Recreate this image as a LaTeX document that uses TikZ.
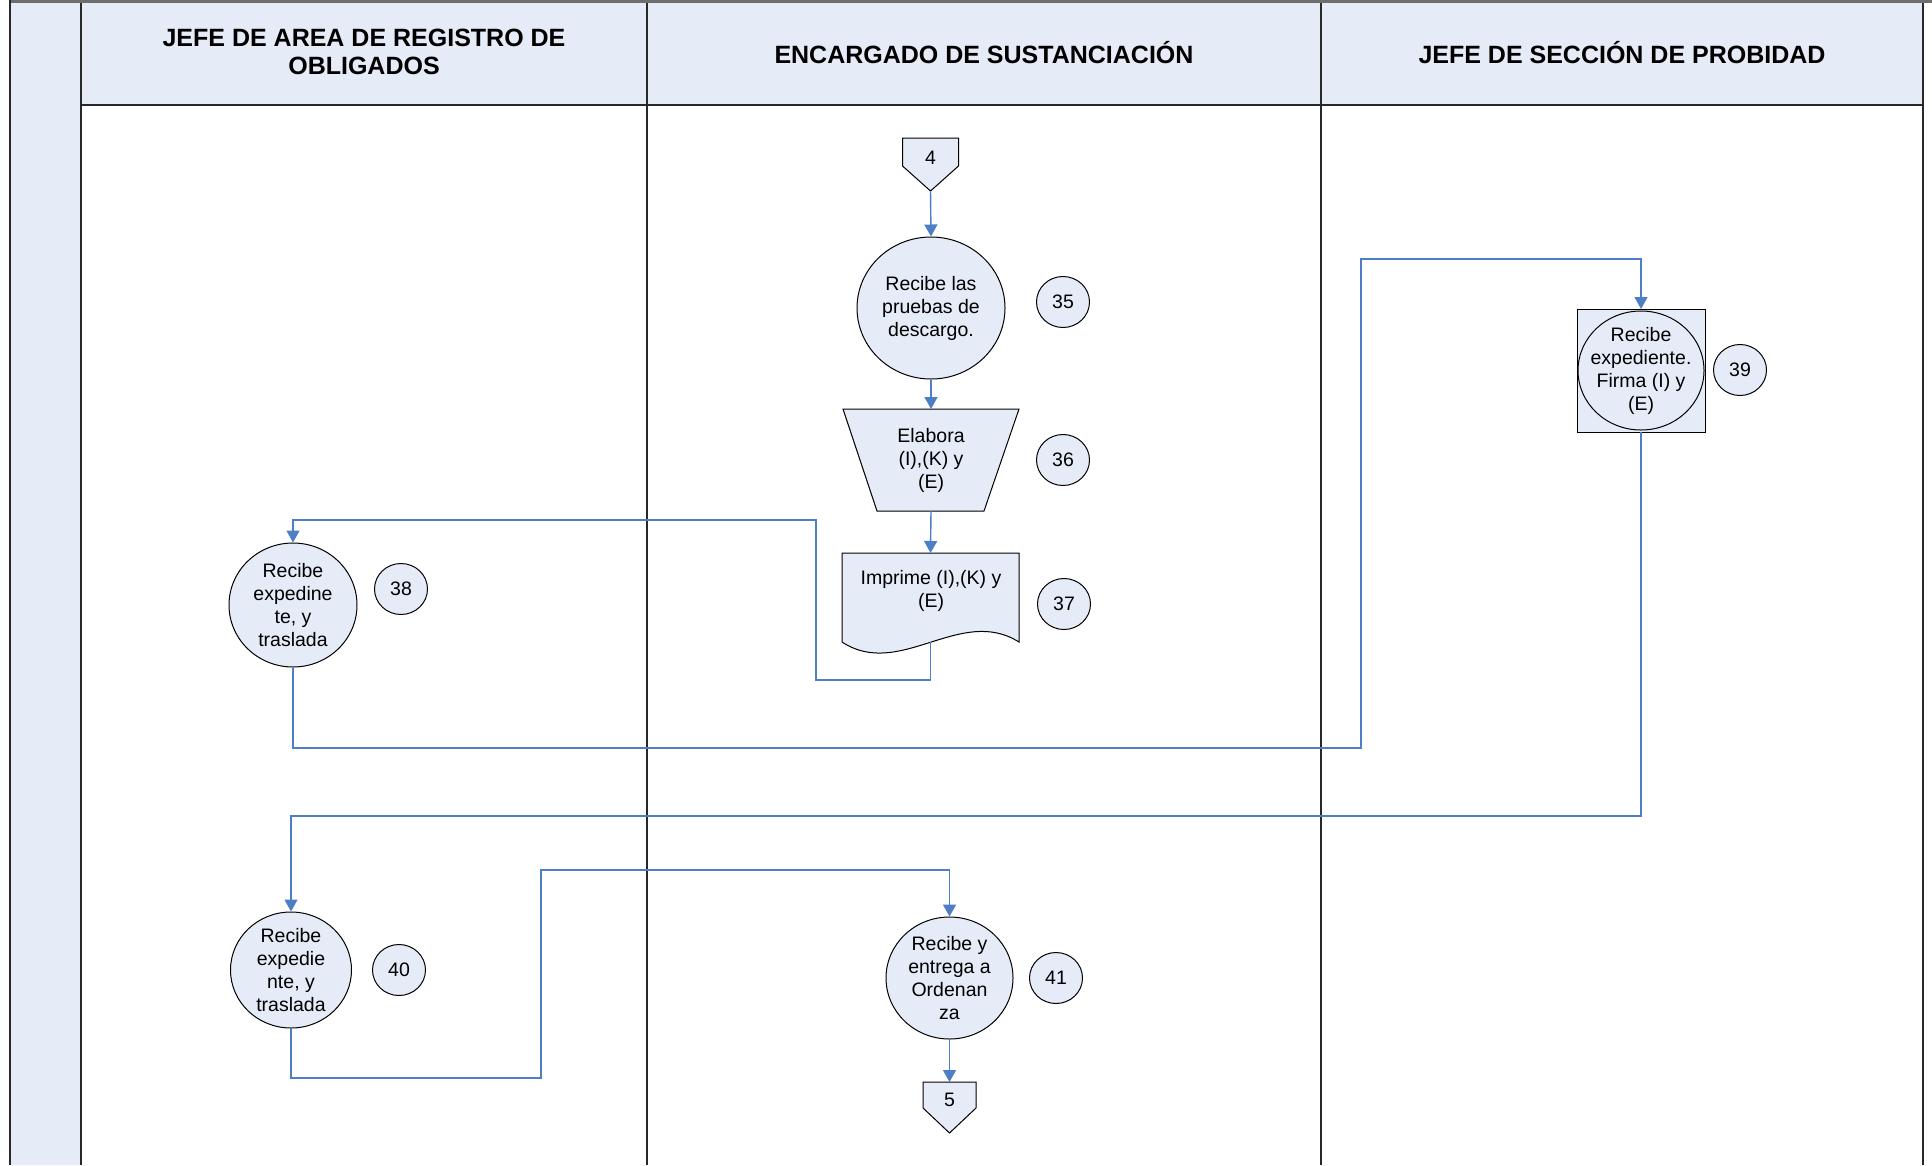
\documentclass[tikz,border=0pt]{standalone}
\usepackage{fontspec}
\setmainfont{Liberation Sans}
\usetikzlibrary{shapes.geometric,arrows.meta,calc}
\definecolor{lanefill}{RGB}{230,236,247}
\definecolor{flowblue}{RGB}{78,126,198}
\definecolor{gridline}{RGB}{40,40,40}
\definecolor{topline}{RGB}{110,110,110}

\begin{document}
\begin{tikzpicture}[x=1pt,y=-1pt,
  body/.style={font=\fontsize{19.5}{23}\selectfont, align=center},
  proc/.style={ellipse, draw=black, line width=1pt, fill=lanefill, inner sep=-12pt, body},
  num/.style={ellipse, draw=black, line width=1pt, fill=lanefill, inner sep=0pt,
              minimum width=53pt, minimum height=51pt, body},
  shapeline/.style={draw=black, line width=1pt, fill=lanefill},
  holder/.style={inner sep=0pt, outer sep=0pt},
  flow/.style={draw=flowblue, line width=1.4pt, -{Triangle[length=12pt,width=13pt]}},
  head/.style={font=\fontsize{25}{28.5}\selectfont\bfseries, align=center},
  grid/.style={draw=gridline, line width=1.5pt}
]
\useasboundingbox (0,0) rectangle (1932,1165);
\fill[white] (0,0) rectangle (1932,1165);

% lanes and header row
\fill[lanefill] (10,0) rectangle (81,1165);
\fill[lanefill] (81,3) rectangle (1923,105);
\draw[grid] (81,105) -- (1923,105);
\draw[grid] (81,3) -- (81,1165);
\draw[grid] (647,3) -- (647,1165);
\draw[grid] (1321,3) -- (1321,1165);
\draw[grid] (1923,3) -- (1923,1165);
\draw[draw=topline, line width=3pt] (10,1.5) -- (1932,1.5);
\draw[draw=gridline, line width=2.5pt] (10,0) -- (10,1165);

\node[head] (h1) at (364,52) {JEFE DE AREA DE REGISTRO DE\\OBLIGADOS};
\node[head] (h2) at (984,53) {ENCARGADO DE SUSTANCIACIÓN};
\node[head] (h3) at (1622,53) {JEFE DE SECCIÓN DE PROBIDAD};

% off-page connector 4
\node[holder, minimum width=56pt, minimum height=53pt] (c4) at (930.5,164.5) {};
\draw[shapeline] (c4.north west) -- (c4.north east) -- ($(c4.south east)+(0,-25)$)
  -- (c4.south) -- ($(c4.south west)+(0,-25)$) -- cycle;
\node[body] (c4t) at (930.5,158) {4};

% step 35
\node[proc, minimum width=148pt, minimum height=142pt] (r35) at (931,308)
  {Recibe las\\pruebas de\\descargo.};
\node[num] (n35) at (1063,302) {35};

% step 36 (manual operation)
\node[holder, minimum width=176pt, minimum height=102pt] (t36) at (931,460) {};
\draw[shapeline] (t36.north west) -- (t36.north east) -- ($(t36.south east)+(-35,0)$)
  -- ($(t36.south west)+(34,0)$) -- cycle;
\node[body] (t36t) at (t36) {Elabora\\(I),(K) y\\(E)};
\node[num] (n36) at (1063,460) {36};

% step 37 (document)
\node[holder, minimum width=177pt, minimum height=89pt] (d37) at (930.5,597.5) {};
\draw[shapeline] (d37.south west) -- (d37.north west) -- (d37.north east) -- (d37.south east)
  .. controls (960,605) and (900,680) .. (d37.south west) -- cycle;
\node[body] (d37t) at (931,591) {Imprime (I),(K) y\\(E)};
\node[num] (n37) at (1064,604) {37};

% step 38
\node[proc, minimum width=128pt, minimum height=124pt] (r38) at (293,605)
  {Recibe\\expedine\\te, y\\traslada};
\node[num] (n38) at (401,589) {38};

% step 39
\node[holder, draw=black, line width=1pt, fill=lanefill, minimum width=128pt, minimum height=123pt]
  (b39) at (1641,370.5) {};
\node[proc, minimum width=126pt, minimum height=119pt] (r39) at (b39)
  {Recibe\\expediente.\\Firma (I) y\\(E)};
\node[num] (n39) at (1740,370) {39};

% step 40
\node[proc, minimum width=121pt, minimum height=116pt] (r40) at (291,970)
  {Recibe\\expedie\\nte, y\\traslada};
\node[num] (n40) at (399,970) {40};

% step 41
\node[proc, minimum width=127pt, minimum height=122pt] (r41) at (949.5,978)
  {Recibe y\\entrega a\\Ordenan\\za};
\node[num] (n41) at (1056,978) {41};

% off-page connector 5
\node[holder, minimum width=53pt, minimum height=51pt] (c5) at (949.5,1107.5) {};
\draw[shapeline] (c5.north west) -- (c5.north east) -- ($(c5.south east)+(0,-25)$)
  -- (c5.south) -- ($(c5.south west)+(0,-25)$) -- cycle;
\node[body] (c5t) at (949.5,1100) {5};

% bend points of the connectors
\coordinate (k1) at (816,680);
\coordinate (k2) at (816,520);
\coordinate (k3) at (1361,748);
\coordinate (k4) at (1361,259);
\coordinate (k5) at (1641,816);
\coordinate (k6) at (541,1078);
\coordinate (k7) at (541,870);

% connectors
\draw[flow] (c4.south) -- (r35.north);
\draw[flow] (r35.south) -- (t36.north);
\draw[flow] (t36.south) -- (d37.north);
\draw[flow] (d37.south) |- (k1) -- (k2) -| (r38.north);
\draw[flow] (r38.south) |- (k3) -- (k4) -| (b39.north);
\draw[flow] (b39.south) -- (k5) -| (r40.north);
\draw[flow] (r40.south) |- (k6) -- (k7) -| (r41.north);
\draw[flow] (r41.south) -- (c5.north);
\end{tikzpicture}
\end{document}
